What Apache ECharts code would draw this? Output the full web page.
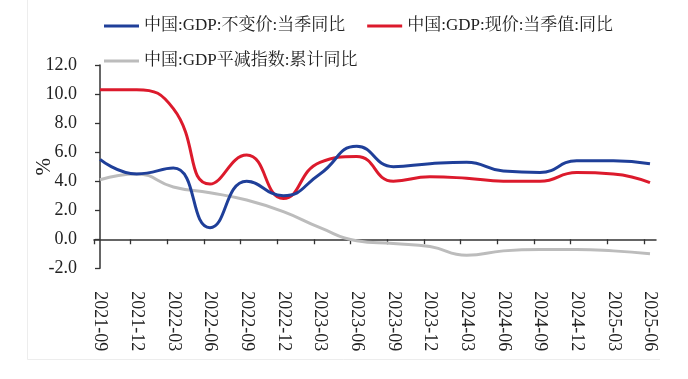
<!DOCTYPE html>
<html>
<head>
<meta charset="utf-8">
<script src="https://cdn.jsdelivr.net/npm/echarts@6/dist/echarts.min.js"></script>
<style>
html,body{margin:0;padding:0;background:#fff;}
#chart{width:688px;height:379px;}
</style>
</head>
<body>
<div id="chart"></div>
<script>
const categories = ['2021-09','2021-12','2022-03','2022-06','2022-09','2022-12','2023-03','2023-06','2023-09','2023-12','2024-03','2024-06','2024-09','2024-12','2025-03','2025-06'];
const realGdp    = [5.5, 4.5, 4.9, 0.8, 4.0, 3.0, 4.5, 6.4, 5.0, 5.2, 5.3, 4.7, 4.6, 5.4, 5.4, 5.2];
const nominalGdp = [10.3, 10.3, 9.0, 3.8, 5.8, 2.8, 5.3, 5.7, 4.0, 4.3, 4.2, 4.0, 4.0, 4.6, 4.5, 3.9];
const deflator   = [4.1, 4.5, 3.6, 3.2, 2.7, 1.9, 0.8, -0.1, -0.3, -0.5, -1.1, -0.8, -0.7, -0.7, -0.8, -1.0];
const yTicks = ['-2.0','0.0','2.0','4.0','6.0','8.0','10.0','12.0'];
const seriesNames = ['中国:GDP:不变价:当季同比','中国:GDP:现价:当季值:同比','中国:GDP平减指数:累计同比'];

const FONT = '"Liberation Serif", "Noto Serif CJK SC", "Noto Sans CJK SC", serif';
const pad = 0.164;
const idx = categories.map((c, i) => i);

const chart = echarts.init(document.getElementById('chart'), null, {renderer: 'canvas'});
const toPairs = arr => arr.map((v, i) => [i, v]);

chart.setOption({
  animation: false,
  backgroundColor: '#fff',
  textStyle: {fontFamily: FONT},
  graphic: [
    {type: 'line', shape: {x1: 27.5, y1: 0, x2: 27.5, y2: 359.5}, style: {stroke: '#ededed', lineWidth: 1}, silent: true},
    {type: 'line', shape: {x1: 27.5, y1: 359.5, x2: 660, y2: 359.5}, style: {stroke: '#ededed', lineWidth: 1}, silent: true}
  ],
  legend: [
    {
      data: [seriesNames[0], seriesNames[1]],
      left: 99, top: 12.5,
      itemWidth: 35, itemHeight: 3, itemGap: 22,
      icon: 'rect',
      textStyle: {fontFamily: FONT, fontSize: 17, color: '#222'}
    },
    {
      data: [seriesNames[2]],
      left: 99, top: 47.5,
      itemWidth: 35, itemHeight: 3,
      icon: 'rect',
      textStyle: {fontFamily: FONT, fontSize: 17, color: '#222'}
    }
  ],
  grid: {left: 94, right: 32, top: 65, bottom: 110.7, containLabel: false},
  xAxis: [
    {
      type: 'value', min: -pad, max: categories.length - 1 + pad,
      axisLine: {show: true, onZero: true, lineStyle: {color: '#333', width: 1.5}},
      axisTick: {show: true, length: 5, inside: false, customValues: idx.map(i => i - pad), lineStyle: {color: '#333', width: 1.3}},
      axisLabel: {show: false},
      splitLine: {show: false}
    },
    {
      type: 'value', position: 'bottom', min: -pad, max: categories.length - 1 + pad,
      axisLine: {show: false, onZero: false},
      axisTick: {show: false},
      splitLine: {show: false},
      axisLabel: {
        show: true, rotate: -90, margin: 23,
        customValues: idx,
        formatter: v => categories[Math.round(v)],
        fontFamily: FONT, fontSize: 18, color: '#222'
      }
    }
  ],
  yAxis: {
    type: 'value', min: -2, max: 12, interval: 2,
    name: '%', nameLocation: 'middle', nameGap: 39, nameRotate: 90, nameMoveOverlap: false,
    nameTextStyle: {fontFamily: FONT, fontSize: 21, color: '#222'},
    axisLine: {show: true, lineStyle: {color: '#333', width: 1.5}},
    axisTick: {show: true, length: 5, lineStyle: {color: '#333', width: 1.3}},
    axisLabel: {margin: 17, fontFamily: FONT, fontSize: 18, color: '#222',
      formatter: v => yTicks[Math.round((v + 2) / 2)]},
    splitLine: {show: false}
  },
  series: [
    {name: seriesNames[0], type: 'line', data: toPairs(realGdp), smooth: 0.5, symbol: 'none',
     lineStyle: {color: '#1f3f99', width: 3}, itemStyle: {color: '#1f3f99'}, z: 3},
    {name: seriesNames[1], type: 'line', data: toPairs(nominalGdp), smooth: 0.5, symbol: 'none',
     lineStyle: {color: '#dc1a2c', width: 3}, itemStyle: {color: '#dc1a2c'}, z: 2},
    {name: seriesNames[2], type: 'line', data: toPairs(deflator), smooth: 0.5, symbol: 'none',
     lineStyle: {color: '#bcbcbc', width: 3}, itemStyle: {color: '#bcbcbc'}, z: 1}
  ]
});
</script>
</body>
</html>
